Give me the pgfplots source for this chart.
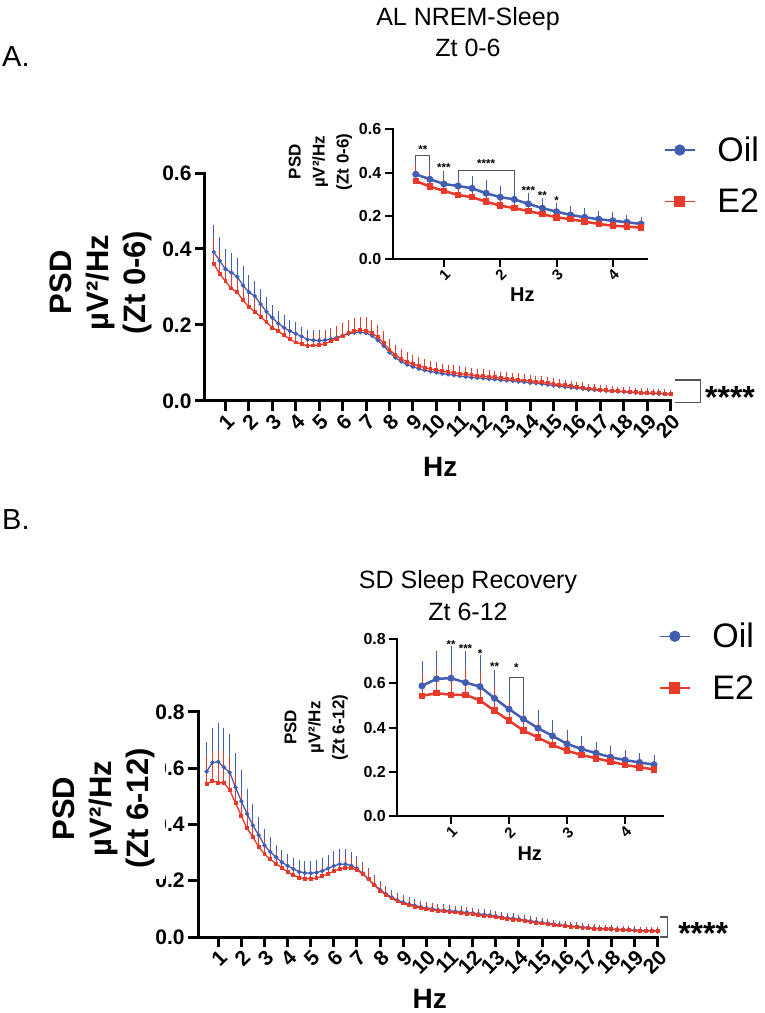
\documentclass[border=0pt]{standalone}
\usepackage{fontspec}
\setmainfont{Liberation Sans}
\usepackage{pgfplots}
\usepackage{pgfplotstable}
\pgfplotsset{compat=1.18}
\newcommand{\fs}[1]{\fontsize{#1}{#1}\selectfont}
\definecolor{oilc}{RGB}{66,94,178}
\definecolor{e2c}{RGB}{232,58,42}
\definecolor{brk}{RGB}{85,85,85}
\tikzset{sigstar/.style={font=\fs{11.5}\bfseries, inner sep=0pt, anchor=center}}

\pgfplotstableread{
x y e
0.5 0.392 0.063
0.75 0.369 0.055
1.0 0.347 0.046
1.25 0.338 0.043
1.5 0.327 0.042
1.75 0.304 0.043
2.0 0.286 0.037
2.25 0.276 0.031
2.5 0.255 0.033
2.75 0.235 0.030
3.0 0.219 0.026
3.25 0.204 0.026
3.5 0.193 0.026
3.75 0.184 0.020
4.0 0.177 0.022
4.25 0.170 0.017
4.5 0.162 0.018
4.75 0.160 0.019
5.0 0.159 0.020
5.25 0.160 0.020
5.5 0.163 0.020
5.75 0.167 0.021
6.0 0.172 0.022
6.25 0.177 0.023
6.5 0.180 0.024
6.75 0.181 0.024
7.0 0.179 0.023
7.25 0.172 0.021
7.5 0.160 0.019
7.75 0.145 0.017
8.0 0.128 0.015
8.25 0.114 0.013
8.5 0.104 0.012
8.75 0.096 0.011
9.0 0.090 0.010
9.25 0.085 0.010
9.5 0.081 0.009
9.75 0.078 0.009
10.0 0.075 0.009
10.25 0.072 0.008
10.5 0.070 0.008
10.75 0.068 0.008
11.0 0.066 0.008
11.25 0.064 0.007
11.5 0.062 0.007
11.75 0.061 0.007
12.0 0.060 0.007
12.25 0.058 0.007
12.5 0.057 0.006
12.75 0.055 0.006
13.0 0.054 0.006
13.25 0.053 0.006
13.5 0.051 0.006
13.75 0.050 0.006
14.0 0.048 0.005
14.25 0.047 0.005
14.5 0.045 0.005
14.75 0.043 0.005
15.0 0.041 0.005
15.25 0.039 0.005
15.5 0.037 0.004
15.75 0.035 0.004
16.0 0.034 0.004
16.25 0.032 0.004
16.5 0.030 0.004
16.75 0.029 0.004
17.0 0.028 0.003
17.25 0.027 0.003
17.5 0.026 0.003
17.75 0.025 0.003
18.0 0.024 0.003
18.25 0.023 0.003
18.5 0.022 0.003
18.75 0.021 0.003
19.0 0.021 0.003
19.25 0.020 0.003
19.5 0.019 0.003
19.75 0.019 0.003
20.0 0.018 0.003
}\oilA

\pgfplotstableread{
x y e
0.5 0.361 0.060
0.75 0.335 0.054
1.0 0.315 0.043
1.25 0.296 0.040
1.5 0.286 0.035
1.75 0.265 0.032
2.0 0.247 0.030
2.25 0.235 0.028
2.5 0.222 0.026
2.75 0.207 0.024
3.0 0.193 0.022
3.25 0.184 0.021
3.5 0.173 0.021
3.75 0.162 0.021
4.0 0.154 0.021
4.25 0.150 0.022
4.5 0.145 0.022
4.75 0.146 0.023
5.0 0.147 0.023
5.25 0.151 0.024
5.5 0.157 0.024
5.75 0.164 0.025
6.0 0.172 0.025
6.25 0.179 0.026
6.5 0.184 0.027
6.75 0.186 0.027
7.0 0.185 0.027
7.25 0.179 0.026
7.5 0.168 0.025
7.75 0.152 0.023
8.0 0.135 0.021
8.25 0.121 0.019
8.5 0.111 0.018
8.75 0.103 0.017
9.0 0.097 0.016
9.25 0.092 0.015
9.5 0.088 0.014
9.75 0.084 0.013
10.0 0.081 0.013
10.25 0.078 0.012
10.5 0.076 0.012
10.75 0.074 0.012
11.0 0.072 0.011
11.25 0.070 0.011
11.5 0.068 0.011
11.75 0.066 0.010
12.0 0.065 0.010
12.25 0.063 0.010
12.5 0.062 0.010
12.75 0.060 0.009
13.0 0.059 0.009
13.25 0.057 0.009
13.5 0.056 0.009
13.75 0.054 0.008
14.0 0.053 0.008
14.25 0.051 0.008
14.5 0.049 0.008
14.75 0.047 0.007
15.0 0.045 0.007
15.25 0.043 0.007
15.5 0.041 0.006
15.75 0.039 0.006
16.0 0.037 0.006
16.25 0.035 0.006
16.5 0.033 0.005
16.75 0.031 0.005
17.0 0.030 0.005
17.25 0.028 0.005
17.5 0.027 0.004
17.75 0.026 0.004
18.0 0.025 0.004
18.25 0.024 0.004
18.5 0.023 0.004
18.75 0.022 0.004
19.0 0.021 0.004
19.25 0.020 0.004
19.5 0.020 0.004
19.75 0.019 0.004
20.0 0.018 0.004
}\eA

\pgfplotstableread{
x y e
0.5 0.588 0.095
0.75 0.620 0.111
1.0 0.623 0.128
1.25 0.603 0.128
1.5 0.585 0.125
1.75 0.532 0.111
2.0 0.483 0.099
2.25 0.438 0.076
2.5 0.397 0.065
2.75 0.362 0.054
3.0 0.326 0.048
3.25 0.303 0.041
3.5 0.284 0.034
3.75 0.266 0.033
4.0 0.253 0.031
4.25 0.242 0.028
4.5 0.232 0.030
4.75 0.228 0.031
5.0 0.227 0.032
5.25 0.229 0.033
5.5 0.235 0.035
5.75 0.244 0.038
6.0 0.253 0.042
6.25 0.259 0.045
6.5 0.259 0.043
6.75 0.254 0.039
7.0 0.243 0.035
7.25 0.226 0.031
7.5 0.206 0.027
7.75 0.186 0.024
8.0 0.168 0.021
8.25 0.153 0.019
8.5 0.141 0.017
8.75 0.131 0.016
9.0 0.123 0.015
9.25 0.117 0.014
9.5 0.112 0.013
9.75 0.107 0.012
10.0 0.103 0.012
10.25 0.100 0.011
10.5 0.097 0.011
10.75 0.095 0.010
11.0 0.093 0.010
11.25 0.091 0.010
11.5 0.089 0.009
11.75 0.087 0.009
12.0 0.085 0.009
12.25 0.082 0.008
12.5 0.080 0.008
12.75 0.077 0.008
13.0 0.074 0.007
13.25 0.071 0.007
13.5 0.068 0.007
13.75 0.066 0.007
14.0 0.063 0.006
14.25 0.060 0.006
14.5 0.057 0.006
14.75 0.054 0.006
15.0 0.051 0.005
15.25 0.048 0.005
15.5 0.046 0.005
15.75 0.043 0.005
16.0 0.041 0.004
16.25 0.039 0.004
16.5 0.037 0.004
16.75 0.035 0.004
17.0 0.033 0.004
17.25 0.031 0.003
17.5 0.030 0.003
17.75 0.029 0.003
18.0 0.028 0.003
18.25 0.027 0.003
18.5 0.026 0.003
18.75 0.025 0.003
19.0 0.024 0.003
19.25 0.023 0.003
19.5 0.022 0.003
19.75 0.022 0.003
20.0 0.021 0.003
}\oilB

\pgfplotstableread{
x y e
0.5 0.543 0.085
0.75 0.555 0.097
1.0 0.548 0.104
1.25 0.548 0.104
1.5 0.522 0.111
1.75 0.476 0.090
2.0 0.431 0.071
2.25 0.386 0.063
2.5 0.355 0.052
2.75 0.321 0.045
3.0 0.295 0.040
3.25 0.276 0.035
3.5 0.261 0.031
3.75 0.246 0.028
4.0 0.231 0.026
4.25 0.220 0.024
4.5 0.211 0.023
4.75 0.207 0.022
5.0 0.207 0.022
5.25 0.210 0.023
5.5 0.216 0.024
5.75 0.225 0.025
6.0 0.234 0.026
6.25 0.242 0.027
6.5 0.246 0.027
6.75 0.245 0.026
7.0 0.238 0.025
7.25 0.224 0.023
7.5 0.205 0.021
7.75 0.184 0.019
8.0 0.165 0.017
8.25 0.149 0.015
8.5 0.137 0.014
8.75 0.127 0.013
9.0 0.119 0.012
9.25 0.113 0.011
9.5 0.108 0.011
9.75 0.103 0.010
10.0 0.099 0.010
10.25 0.096 0.009
10.5 0.093 0.009
10.75 0.091 0.009
11.0 0.089 0.008
11.25 0.087 0.008
11.5 0.085 0.008
11.75 0.083 0.008
12.0 0.081 0.007
12.25 0.078 0.007
12.5 0.076 0.007
12.75 0.073 0.007
13.0 0.070 0.006
13.25 0.067 0.006
13.5 0.065 0.006
13.75 0.062 0.006
14.0 0.060 0.005
14.25 0.057 0.005
14.5 0.054 0.005
14.75 0.051 0.005
15.0 0.048 0.005
15.25 0.046 0.004
15.5 0.043 0.004
15.75 0.041 0.004
16.0 0.039 0.004
16.25 0.037 0.004
16.5 0.035 0.004
16.75 0.033 0.003
17.0 0.031 0.003
17.25 0.030 0.003
17.5 0.029 0.003
17.75 0.028 0.003
18.0 0.027 0.003
18.25 0.026 0.003
18.5 0.025 0.003
18.75 0.024 0.003
19.0 0.023 0.003
19.25 0.022 0.003
19.5 0.021 0.003
19.75 0.021 0.003
20.0 0.020 0.003
}\eB

\pgfplotsset{
  baseax/.style={scale only axis, axis x line*=bottom, axis y line*=left,
    tick align=outside, clip=false, xtick pos=bottom, ytick pos=left,
    minor tick num=0, axis line style={line cap=rect}},
  mainax/.style={baseax, axis line style={line width=3pt},
    major tick style={line width=3pt, black}, major tick length=10pt,
    ticklabel style={font=\fs{21}\bfseries},
    xtick={1,...,20},
    xticklabels={1,2,3,4,5,6,7,8,9,10,11,12,13,14,15,16,17,18,19,20},
    xticklabel style={rotate=45, anchor=north east, inner sep=1pt},
    xmax=20, ymin=0,
    xlabel style={font=\fs{28}\bfseries, anchor=center},
    ylabel style={font=\fontsize{31}{37}\selectfont\bfseries, align=center, anchor=center},
    legend style={draw=none, fill=none, inner sep=0pt, font=\fs{34},
      nodes={inner sep=3pt}, column sep=19pt, row sep=20pt, legend cell align=left,
      anchor=north west},
    legend image code/.code={\draw[mark repeat=2,mark phase=2,##1] plot coordinates {(0pt,0pt)(15pt,0pt)(30pt,0pt)};}},
  inax/.style={baseax, axis line style={line width=2pt},
    major tick style={line width=2pt, black}, major tick length=8pt,
    yticklabel style={font=\fs{16}\bfseries},
    xticklabel style={font=\fs{15}\bfseries, rotate=45, anchor=north east, inner sep=1pt},
    xtick={1,2,3,4}, xticklabels={1,2,3,4},
    xlabel style={font=\fs{20}\bfseries, anchor=center},
    ylabel style={font=\fontsize{17}{24}\selectfont\bfseries, align=center, anchor=center}},
  oilmain/.style={oilc, line width=1.3pt, mark=*, mark size=1.5pt, mark options={solid},
    error bars/.cd, y dir=plus, y explicit,
    error bar style={line width=1pt, oilc}, error mark options={line width=1pt, mark size=3pt, oilc}},
  e2main/.style={e2c, line width=1.3pt, mark=square*, mark size=1.3pt, mark options={solid},
    error bars/.cd, y dir=plus, y explicit,
    error bar style={line width=1pt, e2c}, error mark options={line width=1pt, mark size=3pt, e2c}},
  oilin/.style={oilc, line width=2.5pt, mark=*, mark size=2.2pt, mark options={solid},
    restrict x to domain=0.4:4.6,
    error bars/.cd, y dir=plus, y explicit,
    error bar style={line width=0.9pt, oilc}, error mark options={line width=0.9pt, mark size=3.5pt, oilc}},
  e2in/.style={e2c, line width=2.5pt, mark=square*, mark size=2pt, mark options={solid},
    restrict x to domain=0.4:4.6,
    error bars/.cd, y dir=plus, y explicit,
    error bar style={line width=0.9pt, e2c}, error mark options={line width=0.9pt, mark size=3.5pt, e2c}},
}

\begin{document}
\begin{tikzpicture}[x=1pt,y=1pt]
\path[use as bounding box] (0pt,0pt) rectangle (764pt,1013pt);

% ---------- Titles and panel letters ----------
\node[anchor=west, font=\fs{29}, inner sep=0pt] at (2pt,956pt) {A.};
\node[anchor=north, align=center, font=\fontsize{25}{31}\selectfont, inner sep=0pt] at (468pt,1006pt) {AL NREM-Sleep\\Zt 0-6};
\node[anchor=west, font=\fs{29}, inner sep=0pt] at (2pt,493pt) {B.};
\node[anchor=north, align=center, font=\fontsize{25}{32}\selectfont, inner sep=0pt] at (468pt,443pt) {SD Sleep Recovery\\Zt 6-12};

% ---------- Panel A main ----------
\begin{axis}[mainax, at={(205pt,612pt)}, anchor=south west, width=465.7pt, height=228pt,
  xmin=0.125, ymax=0.6, ytick={0,0.2,0.4,0.6}, yticklabels={0.0,0.2,0.4,0.6},
  xlabel={Hz}, xlabel style={at={(axis description cs:0.505,-0.29)}},
  ylabel={PSD\\µV²/Hz\\(Zt 0-6)}, ylabel style={at={(axis description cs:-0.223,0.52)}},
  legend style={at={(axis description cs:0.9855,1.172)}}]
\addlegendimage{oilc, line width=1.3pt, mark=*, mark size=5pt}
\addlegendentry{Oil}
\addlegendimage{e2c, line width=1.3pt, mark=square*, mark size=5pt}
\addlegendentry{E2}
\addplot[forget plot, oilmain] table[x=x, y=y, y error=e] {\oilA};
\addplot[forget plot, e2main] table[x=x, y=y, y error=e] {\eA};
\draw[brk, line width=1.2pt] (axis cs:20.18,0.055) -- (axis cs:21.26,0.055) -- (axis cs:21.26,-0.003) -- (axis cs:20.18,-0.003);
\node[font=\fs{32}\bfseries, anchor=base west, inner sep=0pt] at (axis cs:21.46,-0.021) {****};
\end{axis}

% ---------- Panel A inset ----------
\begin{axis}[inax, at={(392.7pt,754pt)}, anchor=south west, width=253.9pt, height=129.7pt,
  xmin=0.09, xmax=4.6, ymin=0, ymax=0.6, ytick={0,0.2,0.4,0.6}, yticklabels={0.0,0.2,0.4,0.6},
  xlabel={Hz}, xlabel style={at={(axis description cs:0.511,-0.274)}},
  ylabel={PSD\\µV²/Hz\\(Zt 0-6)}, ylabel style={at={(axis description cs:-0.285,0.75)}}]
\addplot[oilin] table[x=x, y=y, y error=e] {\oilA};
\addplot[e2in] table[x=x, y=y, y error=e] {\eA};
\draw[brk, line width=1pt] (axis cs:0.5,0.46) |- (axis cs:0.75,0.48) -- (axis cs:0.75,0.43);
\node[sigstar] at (axis cs:0.625,0.505) {**};
\node[sigstar] at (axis cs:1.0,0.425) {***};
\draw[brk, line width=1pt] (axis cs:1.25,0.385) |- (axis cs:2.25,0.41) -- (axis cs:2.25,0.31);
\node[sigstar] at (axis cs:1.75,0.44) {****};
\node[sigstar] at (axis cs:2.5,0.315) {***};
\node[sigstar] at (axis cs:2.75,0.295) {**};
\node[sigstar] at (axis cs:3.0,0.27) {*};
\end{axis}

% ---------- Panel B main ----------
\begin{axis}[mainax, at={(198.2pt,76pt)}, anchor=south west, width=459.5pt, height=225pt,
  xmin=0.135, ymax=0.8, ytick={0,0.2,0.4,0.6,0.8}, yticklabels={0.0,0.2,0.4,0.6,0.8},
  xlabel={Hz}, xlabel style={at={(axis description cs:0.504,-0.276)}},
  ylabel={PSD\\µV²/Hz\\(Zt 6-12)}, ylabel style={at={(axis description cs:-0.205,0.571)}, fill=white, inner sep=10pt},
  legend style={at={(axis description cs:1.0028,1.409)}}]
\addlegendimage{oilc, line width=1.3pt, mark=*, mark size=5pt}
\addlegendentry{Oil}
\addlegendimage{e2c, line width=1.3pt, mark=square*, mark size=5pt}
\addlegendentry{E2}
\addplot[forget plot, oilmain] table[x=x, y=y, y error=e] {\oilB};
\addplot[forget plot, e2main] table[x=x, y=y, y error=e] {\eB};
\draw[brk, line width=1.2pt] (axis cs:20.1,0.071) -- (axis cs:20.44,0.071) -- (axis cs:20.44,0.0) -- (axis cs:20.1,0.0);
\node[font=\fs{32}\bfseries, anchor=base west, inner sep=0pt] at (axis cs:20.88,-0.028) {****};
\end{axis}

% ---------- Panel B inset ----------
\begin{axis}[inax, at={(397.3pt,197pt)}, anchor=south west, width=266pt, height=177pt,
  xmin=0.074, xmax=4.66, ymin=0, ymax=0.8, ytick={0,0.2,0.4,0.6,0.8}, yticklabels={0.0,0.2,0.4,0.6,0.8},
  xlabel={Hz}, xlabel style={at={(axis description cs:0.498,-0.212)}},
  ylabel={PSD\\µV²/Hz\\(Zt 6-12)}, ylabel style={at={(axis description cs:-0.305,0.5)}}]
\addplot[oilin] table[x=x, y=y, y error=e] {\oilB};
\addplot[e2in] table[x=x, y=y, y error=e] {\eB};
\node[sigstar] at (axis cs:1.0,0.775) {**};
\node[sigstar] at (axis cs:1.25,0.755) {***};
\node[sigstar] at (axis cs:1.5,0.735) {*};
\node[sigstar] at (axis cs:1.75,0.675) {**};
\draw[brk, line width=1pt] (axis cs:2.0,0.58) |- (axis cs:2.25,0.628) -- (axis cs:2.25,0.53);
\node[sigstar] at (axis cs:2.125,0.67) {*};
\end{axis}
\end{tikzpicture}
\end{document}
